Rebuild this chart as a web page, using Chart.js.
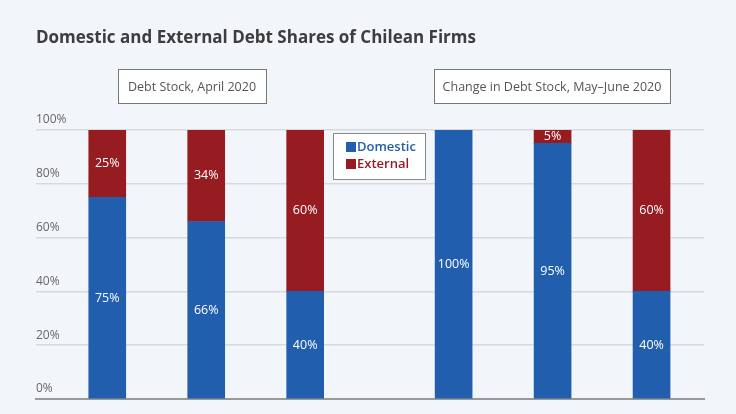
<!DOCTYPE html>
<html><head><meta charset="utf-8">
<script src="https://cdn.jsdelivr.net/npm/chart.js@4"></script>
<style>
html,body{margin:0;padding:0;background:#f2f6fa;overflow:hidden;}
#wrap{position:relative;width:736px;height:434px;}
</style></head><body>
<div id="wrap"><canvas id="c"></canvas></div>
<script>
const categories = ['Small and Medium', 'Large', 'Mega', 'Small and Medium', 'Large', 'Mega'];
const xPos = [0, 1, 2, 3.5, 4.5, 5.5];
const domestic = [75, 66, 40, 100, 95, 40];
const external = [25, 34, 60, 0, 5, 60];
const panelTitles = ['Debt Stock, April 2020', 'Change in Debt Stock, May\u2013June 2020'];
const yTicks = [0, 20, 40, 60, 80, 100];

const BLUE = '#215eae', RED = '#961c22', FONT = "'Open Sans', 'Noto Sans', sans-serif";

const decor = {
  id: 'decor',
  beforeDraw(chart) {
    const ctx = chart.ctx;
    ctx.save();
    ctx.fillStyle = '#f2f6fa';
    ctx.fillRect(0, 0, chart.width, chart.height);
    ctx.fillStyle = '#3d3d3d';
    ctx.font = "bold 17px " + FONT;
    ctx.textBaseline = 'middle';
    ctx.fillText('Domestic and External Debt Shares of Chilean Firms', 36, 38);
    // panel boxes
    const boxes = [[118, 69, 148, 34], [434, 69, 236, 34]];
    ctx.font = "12.5px " + FONT;
    ctx.textAlign = 'center';
    boxes.forEach((b, i) => {
      ctx.fillStyle = '#fff';
      ctx.fillRect(b[0], b[1], b[2], b[3]);
      ctx.strokeStyle = '#777';
      ctx.lineWidth = 1;
      ctx.strokeRect(b[0] + 0.5, b[1] + 0.5, b[2], b[3]);
      ctx.fillStyle = '#555';
      ctx.fillText(panelTitles[i], b[0] + b[2] / 2, b[1] + b[3] / 2 + 1);
    });
    ctx.restore();
  },
  afterDatasetsDraw(chart) {
    const ctx = chart.ctx;
    ctx.save();
    ctx.font = "12.5px " + FONT;
    ctx.fillStyle = '#fff';
    ctx.textAlign = 'center';
    ctx.textBaseline = 'middle';
    const ys = chart.scales.y;
    const xs = chart.scales.x;
    xPos.forEach((x, i) => {
      const px = xs.getPixelForValue(x);
      if (domestic[i] > 0) ctx.fillText(domestic[i] + '%', px, ys.getPixelForValue(domestic[i] / 2));
      if (external[i] > 0) ctx.fillText(external[i] + '%', px, ys.getPixelForValue(domestic[i] + external[i] / 2));
    });
    // legend
    ctx.fillStyle = '#fff';
    ctx.fillRect(333, 133, 92, 46);
    ctx.strokeStyle = '#888';
    ctx.strokeRect(333.5, 133.5, 92, 46);
    ctx.textAlign = 'left';
    ctx.font = "600 13px " + FONT;
    [['Domestic', BLUE, 147], ['External', RED, 164]].forEach(l => {
      ctx.fillStyle = l[1];
      ctx.fillRect(346, l[2] - 5, 10, 10);
      ctx.fillText(l[0], 357, l[2]);
    });
    ctx.restore();
  }
};

new Chart(document.getElementById('c'), {
  type: 'bar',
  data: {
    datasets: [
      { label: 'Domestic', data: xPos.map((x, i) => ({ x: x, y: domestic[i] })), backgroundColor: BLUE },
      { label: 'External', data: xPos.map((x, i) => ({ x: x, y: external[i] })), backgroundColor: RED }
    ]
  },
  options: {
    responsive: true,
    maintainAspectRatio: false,
    animation: false,
    layout: { padding: { top: 130, left: 36, right: 32, bottom: 0 } },
    plugins: { legend: { display: false }, tooltip: { enabled: false } },
    datasets: { bar: { barThickness: 37 } },
    scales: {
      x: {
        type: 'linear', stacked: true, min: -0.72, max: 6.03, offset: false,
        afterBuildTicks(s) { s.ticks = xPos.map(v => ({ value: v })); },
        ticks: {
          autoSkip: false, maxRotation: 0, padding: 6,
          color: '#555', font: { family: FONT, size: 12.5 },
          callback: (v) => categories[xPos.indexOf(v)]
        },
        grid: { display: false },
        border: { color: '#999', width: 2 }
      },
      y: {
        stacked: true, min: 0, max: 100,
        afterBuildTicks(s) { s.ticks = yTicks.map(v => ({ value: v })); },
        ticks: {
          mirror: true, padding: 0, labelOffset: -10,
          color: '#666', font: { family: FONT, size: 12 },
          callback: v => v + '%'
        },
        grid: { color: '#d6dade', lineWidth: 1.5, drawTicks: false },
        border: { display: false }
      }
    }
  },
  plugins: [decor]
});
</script>
</body></html>
